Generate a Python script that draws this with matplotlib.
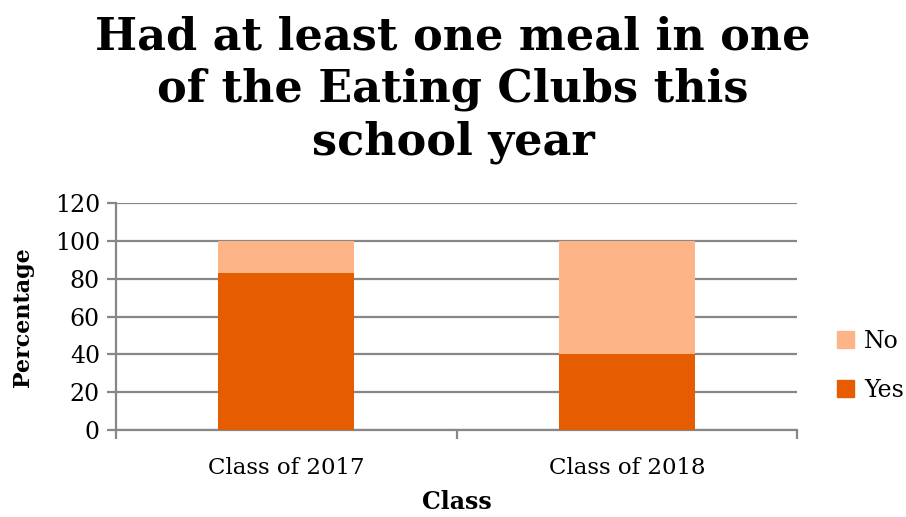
import numpy as np
import matplotlib.pyplot as plt
from matplotlib.patches import Patch

plt.close("all")
plt.rcParams['font.family'] = ['DejaVu Serif']

classes = ["Class of 2017", "Class of 2018"]
yes = [83, 40]
no = [17, 60]

c_yes = "#E65C00"
c_no = "#FDB487"
grid_c = "#878787"

fig = plt.figure(figsize=(9.06, 5.17), dpi=100)
ax = fig.add_axes([0.128, 0.168, 0.752, 0.439])

x = np.arange(len(classes))
ax.bar(x, yes, width=0.4, color=c_yes, zorder=3)
ax.bar(x, no, width=0.4, bottom=yes, color=c_no, zorder=3)

ax.set_xlim(-0.5, 1.5)
ax.set_ylim(0, 120)
ax.set_yticks(range(0, 121, 20))
ax.yaxis.grid(True, color=grid_c, lw=1.6, zorder=0)
for s in ["top", "right"]:
    ax.spines[s].set_visible(False)
for s in ["left", "bottom"]:
    ax.spines[s].set_color(grid_c)
    ax.spines[s].set_linewidth(1.6)

ax.set_xticks(x)
ax.set_xticklabels(classes, fontsize=16.5)
ax.set_xticks([-0.5, 0.5, 1.5], minor=True)
ax.tick_params(axis="x", which="major", length=0, pad=19)
ax.tick_params(axis="x", which="minor", length=6.5, width=1.6, color=grid_c, direction="out")
ax.tick_params(axis="y", length=6.5, width=1.6, color=grid_c, labelsize=17, pad=5)

ax.set_ylabel("Percentage", fontsize=16, fontweight="bold", labelpad=15)
ax.set_xlabel("Class", fontsize=17, fontweight="bold", labelpad=8)

fig.suptitle("Had at least one meal in one\nof the Eating Clubs this\nschool year",
             fontsize=32, fontweight="bold", x=0.5, y=0.97, linespacing=1.27)

handles = [Patch(color=c_no, label="No"), Patch(color=c_yes, label="Yes")]
fig.legend(handles=handles, loc="center left", bbox_to_anchor=(0.9, 0.292),
           frameon=False, fontsize=17, handlelength=0.75, handleheight=0.75,
           handletextpad=0.4, labelspacing=1.1)

fig.savefig("out.png", dpi=100)
